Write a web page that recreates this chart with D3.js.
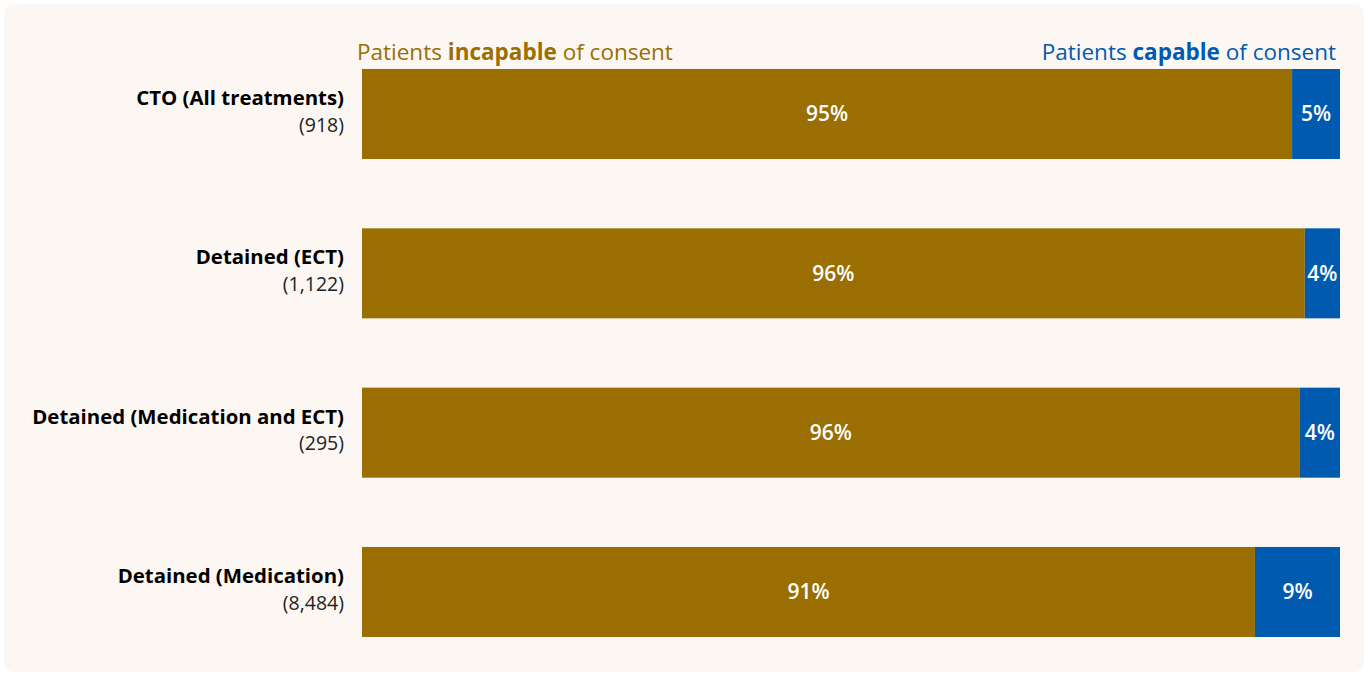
<!DOCTYPE html>
<html>
<head>
<meta charset="utf-8">
<script src="https://cdn.jsdelivr.net/npm/d3@7"></script>
<style>
  html, body { margin: 0; padding: 0; background: #ffffff; }
  svg { display: block; font-family: "Open Sans", "Noto Sans", sans-serif; }
</style>
</head>
<body>
<svg id="chart" width="1368" height="674"></svg>
<script>
// Treatment groups and number of patients in each
const categories = ["CTO (All treatments)", "Detained (ECT)", "Detained (Medication and ECT)", "Detained (Medication)"];
const patientCounts = ["918", "1,122", "295", "8,484"];

// Share of patients (%) by consent capability
const incapable = [95.1, 96.4, 95.9, 91.3];
const capable = [4.9, 3.6, 4.1, 8.7];

const colIncapable = "#9a6e00";
const colCapable = "#005bb0";

const svg = d3.select("#chart");

// panel background
svg.append("rect")
  .attr("x", 4).attr("y", 4)
  .attr("width", 1360).attr("height", 668)
  .attr("rx", 10)
  .attr("fill", "#fcf7f3");

const x = d3.scaleLinear().domain([0, 100]).range([362, 1340]);
const y = d3.scaleBand().domain(categories).range([69, 637]).paddingInner(0.435).paddingOuter(0);

const rows = categories.map((c, i) => ({
  cat: c, n: patientCounts[i], inc: incapable[i], cap: capable[i]
}));

const g = svg.append("g");

// incapable segment
g.selectAll("rect.inc").data(rows).join("rect")
  .attr("class", "inc")
  .attr("x", x(0))
  .attr("y", d => y(d.cat))
  .attr("width", d => x(d.inc) - x(0))
  .attr("height", y.bandwidth())
  .attr("fill", colIncapable);

// capable segment
g.selectAll("rect.cap").data(rows).join("rect")
  .attr("class", "cap")
  .attr("x", d => x(d.inc))
  .attr("y", d => y(d.cat))
  .attr("width", d => x(d.inc + d.cap) - x(d.inc))
  .attr("height", y.bandwidth())
  .attr("fill", colCapable);

// value labels
g.selectAll("text.incl").data(rows).join("text")
  .attr("x", d => (x(0) + x(d.inc)) / 2)
  .attr("y", d => y(d.cat) + y.bandwidth() / 2)
  .attr("dy", "0.35em")
  .attr("text-anchor", "middle")
  .attr("fill", "#ffffff")
  .attr("font-size", 21)
  .attr("font-weight", 600)
  .text(d => Math.round(d.inc) + "%");

g.selectAll("text.capl").data(rows).join("text")
  .attr("x", d => (x(d.inc) + x(d.inc + d.cap)) / 2)
  .attr("y", d => y(d.cat) + y.bandwidth() / 2)
  .attr("dy", "0.35em")
  .attr("text-anchor", "middle")
  .attr("fill", "#ffffff")
  .attr("font-size", 21)
  .attr("font-weight", 600)
  .text(d => Math.round(d.cap) + "%");

// category labels
const lab = g.selectAll("g.lab").data(rows).join("g")
  .attr("transform", d => `translate(344, ${y(d.cat) + y.bandwidth() / 2})`);
lab.append("text")
  .attr("y", -16)
  .attr("dy", "0.35em")
  .attr("text-anchor", "end")
  .attr("font-size", 20.4)
  .attr("font-weight", 700)
  .attr("fill", "#000")
  .text(d => d.cat);
lab.append("text")
  .attr("y", 11)
  .attr("dy", "0.35em")
  .attr("text-anchor", "end")
  .attr("font-size", 19.5)
  .attr("fill", "#222")
  .text(d => `(${d.n})`);

// headers
const h1 = svg.append("text")
  .attr("x", x(0) - 5).attr("y", 60)
  .attr("font-size", 22.5)
  .attr("fill", colIncapable);
h1.append("tspan").text("Patients ");
h1.append("tspan").attr("font-weight", 700).text("incapable");
h1.append("tspan").text(" of consent");

const h2 = svg.append("text")
  .attr("x", x(100) - 4).attr("y", 60)
  .attr("text-anchor", "end")
  .attr("font-size", 22.5)
  .attr("fill", colCapable);
h2.append("tspan").text("Patients ");
h2.append("tspan").attr("font-weight", 700).text("capable");
h2.append("tspan").text(" of consent");
</script>
</body>
</html>
